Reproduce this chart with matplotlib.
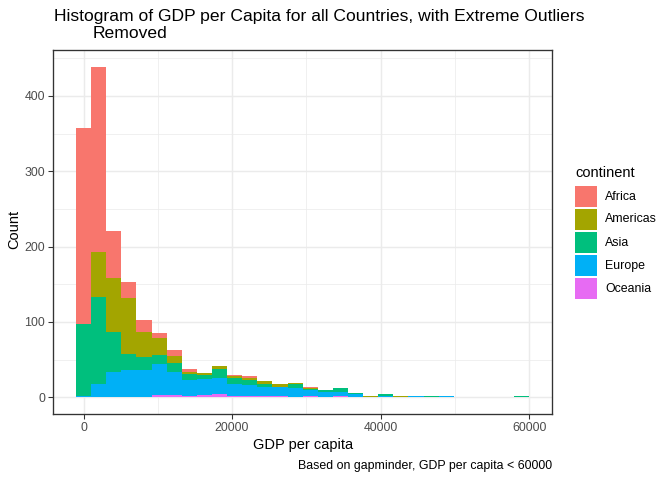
import numpy as np
import matplotlib
matplotlib.use("Agg")
from matplotlib import pyplot as plt
from matplotlib.patches import Rectangle

plt.rcParams['font.family'] = ['Liberation Sans', 'DejaVu Sans']

# ggplot-style bins (30 bins, width ~2035, first edge at -1017)
bin_start = -1017.0
bin_width = 2035.0

continents = ["Africa", "Americas", "Asia", "Europe", "Oceania"]
colours = ["#F8766D", "#A3A500", "#00BF7D", "#00B0F6", "#E76BF3"]

# counts per bin
oceania = [0, 0, 0, 0, 0, 3, 3, 2, 3, 4, 2, 2, 1, 1, 0, 1, 0, 1, 0, 0,
           0, 0, 0, 0, 0, 0, 0, 0, 0, 0]
europe = [1, 17, 34, 36, 36, 41, 31, 21, 21, 22, 15, 14, 13, 12, 12, 8, 7, 6, 4, 0,
          1, 0, 1, 0, 1, 0, 0, 0, 0, 0]
asia = [96, 116, 52, 21, 17, 12, 12, 8, 5, 11, 9, 7, 4, 1, 5, 2, 2, 5, 1, 0,
        3, 0, 0, 1, 0, 0, 0, 0, 0, 1]
americas = [0, 60, 72, 75, 34, 23, 9, 3, 3, 4, 2, 3, 3, 3, 2, 1, 1, 0, 1, 1,
            0, 1, 0, 0, 0, 0, 0, 0, 0, 0]
africa = [261, 246, 63, 21, 15, 6, 8, 4, 0, 1, 1, 2, 0, 0, 0, 1, 0, 0, 0, 0,
          0, 0, 0, 0, 0, 0, 0, 0, 0, 0]

x_ticks = [0, 20000, 40000, 60000]
y_ticks = [0, 100, 200, 300, 400]

W, H = 672, 480
small = 9.3  # tick / legend / caption text
fig = plt.figure(figsize=(W / 96, H / 96), dpi=96)

# panel in pixel coords
pl, pr, pt, pb = 53.3, 552.0, 50.0, 413.7
ax = fig.add_axes([pl / W, 1 - pb / H, (pr - pl) / W, (pb - pt) / H])

n = len(africa)
edges = bin_start + bin_width * np.arange(n + 1)
centers = (edges[:-1] + edges[1:]) / 2

# stack from bottom: Oceania, Europe, Asia, Americas, Africa
stack = [("Oceania", oceania), ("Europe", europe), ("Asia", asia),
         ("Americas", americas), ("Africa", africa)]
col = dict(zip(continents, colours))
bottom = np.zeros(n)
for name, vals in stack:
    vals = np.array(vals, dtype=float)
    ax.bar(centers, vals, width=bin_width, bottom=bottom, color=col[name],
           linewidth=0, zorder=3)
    bottom += vals

total = bottom
xmin, xmax = edges[0], edges[-1]
xpad = (xmax - xmin) * 0.05
ax.set_xlim(xmin - xpad, xmax + xpad)
ypad = total.max() * 0.05
ax.set_ylim(-ypad, total.max() + ypad)

ax.set_xticks(x_ticks)
ax.set_xticklabels([str(v) for v in x_ticks])
ax.set_yticks(y_ticks)
ax.set_xticks([10000, 30000, 50000], minor=True)
ax.set_yticks([50, 150, 250, 350, 450], minor=True)
ax.grid(True, which='major', color='#EBEBEB', linewidth=1.1, zorder=0)
ax.grid(True, which='minor', color='#EBEBEB', linewidth=0.55, zorder=0)
ax.set_axisbelow(True)
ax.tick_params(which='minor', length=0)
ax.tick_params(which='major', length=3.5, width=0.8, color='#333333',
               labelsize=small, labelcolor='#4D4D4D', pad=2.5)
for s in ax.spines.values():
    s.set_color('#333333')
    s.set_linewidth(1.0)

# axis titles, caption, title
fig.text(303 / W, 1 - 445 / H, "GDP per capita", ha='center', va='center',
         fontsize=11)
fig.text(14 / W, 1 - 229 / H, "Count", ha='center', va='center',
         rotation=90, fontsize=11)
fig.text(552 / W, 1 - 466 / H, "Based on gapminder, GDP per capita < 60000",
         ha='right', va='center', fontsize=small)
fig.text(54 / W, 1 - 16 / H,
         "Histogram of GDP per Capita for all Countries, with Extreme Outliers",
         ha='left', va='center', fontsize=13.1)
fig.text(93 / W, 1 - 34 / H, "Removed", ha='left', va='center', fontsize=13.1)

# legend
fig.text(575 / W, 1 - 173 / H, "continent", ha='left', va='center', fontsize=11)
key_h = 23.0
for i, (name, c) in enumerate(zip(continents, colours)):
    top = 185.5 + i * key_h
    fig.add_artist(Rectangle((575 / W, 1 - (top + key_h - 1.5) / H),
                             22 / W, (key_h - 1.5) / H,
                             transform=fig.transFigure, facecolor=c,
                             edgecolor='none'))
    fig.text(605 / W, 1 - (top + key_h / 2 - 0.5) / H, name, ha='left',
             va='center', fontsize=small)

fig.savefig("out.png", dpi=96)
